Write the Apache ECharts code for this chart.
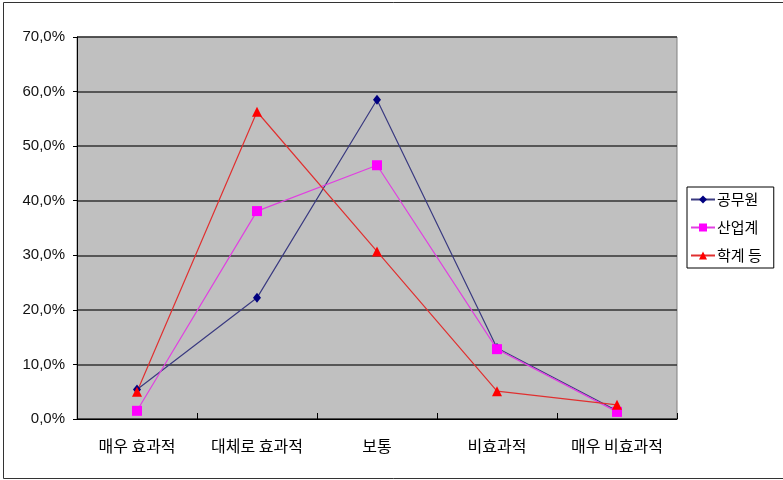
<!DOCTYPE html>
<html>
<head>
<meta charset="utf-8">
<script src="https://cdn.jsdelivr.net/npm/echarts@6/dist/echarts.min.js"></script>
<style>
  html, body { margin: 0; padding: 0; background: #fff; }
  #chart { width: 783px; height: 480px; }
</style>
</head>
<body>
<div id="chart"></div>
<script>
// Survey response categories (x axis)
const categories = ['매우 효과적', '대체로 효과적', '보통', '비효과적', '매우 비효과적'];

// Response shares (%) per respondent group
const publicServants = [5.4, 22.2, 58.5, 13.0, 1.5];   // 공무원
const industry       = [1.5, 38.1, 46.5, 12.8, 1.3];   // 산업계
const academia       = [5.0, 56.3, 30.7, 5.1, 2.6];    // 학계 등

// Y axis range (percent)
const yMin = 0, yMax = 70, yStep = 10;

const seriesDefs = [
  { name: '공무원',  data: publicServants, color: '#000080', line: '#3a3a80', symbol: 'diamond',  size: [8, 10] },
  { name: '산업계',  data: industry,       color: '#ff00ff', line: '#e040e0', symbol: 'rect',     size: 10 },
  { name: '학계 등', data: academia,       color: '#ff0000', line: '#e03030', symbol: 'triangle', size: 10 }
];

const chart = echarts.init(document.getElementById('chart'), null, { renderer: 'canvas' });

const fontKR = '"Noto Sans CJK KR", "Noto Sans", sans-serif';

chart.setOption({
  animation: false,
  backgroundColor: '#ffffff',
  grid: {
    left: 77, top: 37, right: 106, bottom: 61,
    show: true,
    backgroundColor: '#c0c0c0',
    borderColor: '#808080',
    borderWidth: 1
  },
  xAxis: {
    type: 'category',
    data: categories,
    boundaryGap: true,
    axisLine: { show: true, lineStyle: { color: '#000', width: 1 } },
    axisTick: { show: true, inside: true, length: 6, lineStyle: { color: '#000' } },
    axisLabel: { color: '#000', fontSize: 16, fontFamily: fontKR, margin: 19 },
    splitLine: { show: false }
  },
  yAxis: {
    type: 'value',
    min: yMin, max: yMax, interval: yStep,
    axisLine: { show: true, lineStyle: { color: '#000', width: 1 } },
    axisTick: { show: true, length: 4, lineStyle: { color: '#000' } },
    axisLabel: {
      color: '#111', fontSize: 15, fontFamily: '"Liberation Sans", Arial, sans-serif', margin: 12,
      formatter: v => v.toFixed(1).replace('.', ',') + '%'
    },
    splitLine: { show: true, lineStyle: { color: '#333', width: 1.5 } }
  },
  legend: {
    orient: 'vertical',
    left: 687, top: 187,
    padding: [5, 12, 5, 3],
    itemGap: 13,
    itemWidth: 24,
    itemHeight: 10,
    backgroundColor: '#fff',
    borderColor: '#000',
    borderWidth: 1,
    borderRadius: 0,
    textStyle: { color: '#000', fontSize: 15, fontFamily: fontKR, padding: [0, 0, 0, -3] },
    data: seriesDefs.map(s => s.name)
  },
  series: seriesDefs.map(s => ({
    name: s.name,
    type: 'line',
    data: s.data,
    symbol: s.symbol,
    symbolSize: s.size,
    showAllSymbol: true,
    itemStyle: { color: s.color, borderWidth: 0 },
    lineStyle: { color: s.line, width: 1.2 },
    emphasis: { disabled: true }
  })),
  graphic: [{
    type: 'rect',
    silent: true,
    z: -1,
    shape: { x: 3.5, y: 2.5, width: 790, height: 476 },
    style: { fill: 'none', stroke: '#333', lineWidth: 1 }
  }]
});
</script>
</body>
</html>
